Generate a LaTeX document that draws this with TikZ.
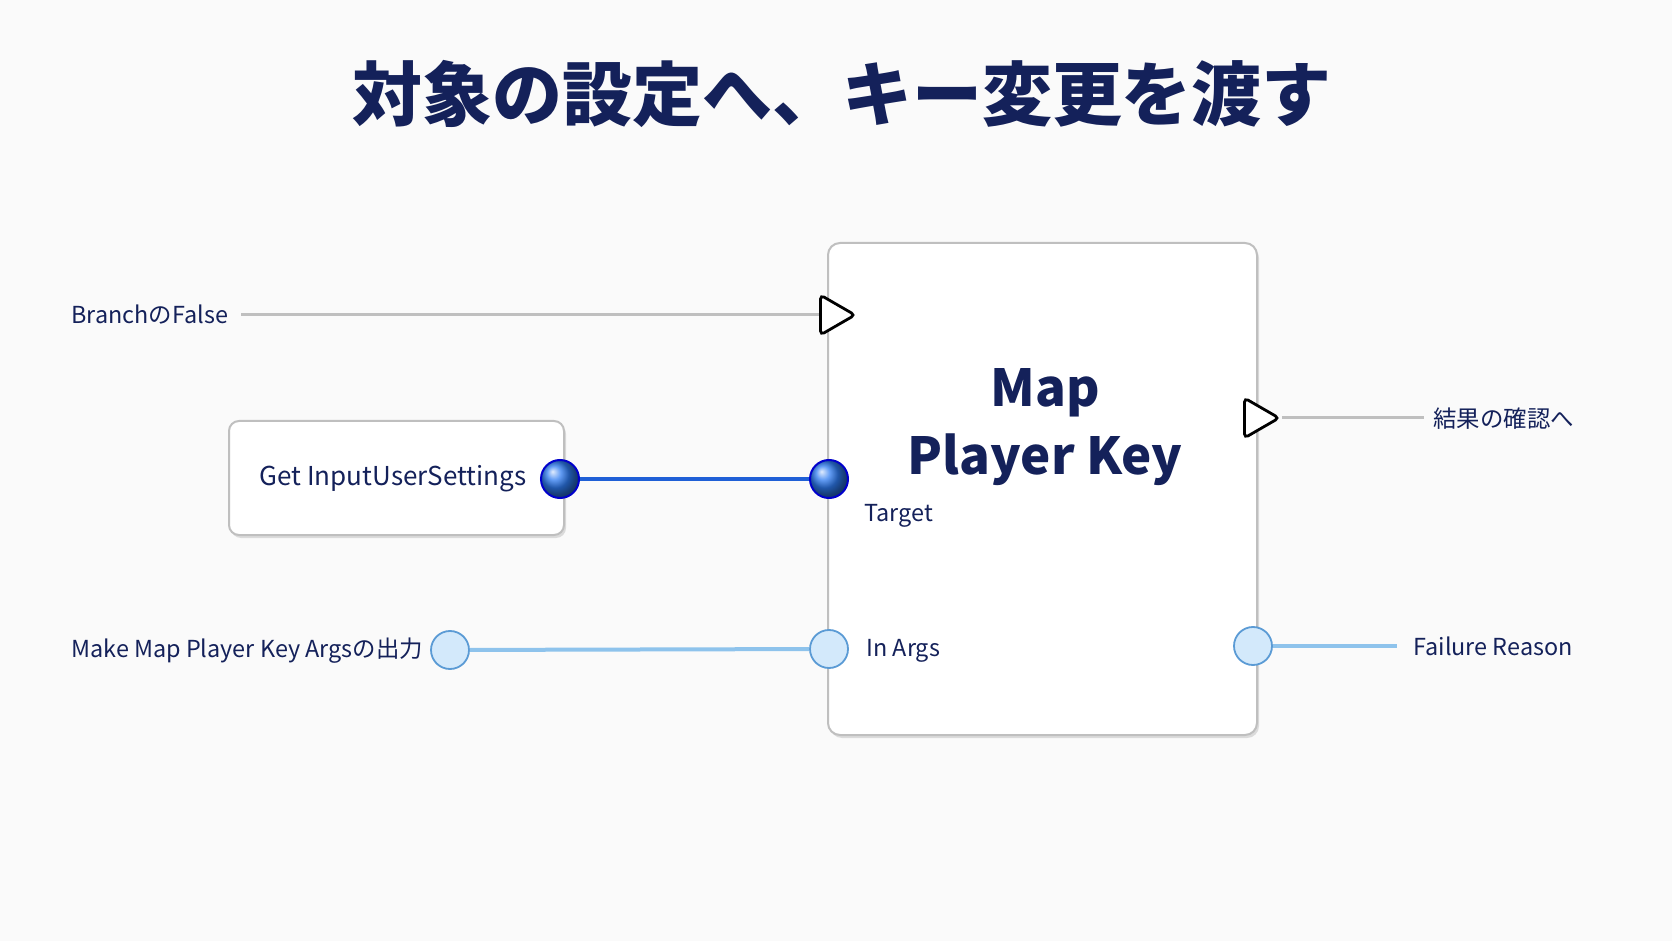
\documentclass[tikz,border=0pt]{standalone}
\usepackage{fontspec}
\setmainfont{Noto Sans CJK JP}
\usetikzlibrary{shadows,shapes.geometric}
\definecolor{navy}{HTML}{14215A}
\definecolor{pinline}{HTML}{8EC3EC}
\definecolor{pinedge}{HTML}{5B9BD5}
\definecolor{pinfill}{HTML}{D3E9FB}
\definecolor{wire}{HTML}{1F5FD6}
\definecolor{ball}{HTML}{2E7BF0}
\tikzset{
  lbl/.style={text=navy,font=\fontsize{11.7}{14}\selectfont,inner sep=0pt},
  box/.style={draw=black!25,line width=1pt,fill=white,rounded corners=6pt,
    drop shadow={shadow xshift=1pt,shadow yshift=-1.5pt,opacity=.25}},
  datapin/.style={circle,draw=pinedge,line width=.9pt,fill=pinfill,minimum size=19pt,inner sep=0pt},
  objpin/.style={circle,draw=blue!80!black,line width=1pt,ball color=ball,minimum size=19pt,inner sep=0pt},
  execpin/.style={draw=black,line width=1.4pt,fill=white,rounded corners=2pt,inner sep=0pt,
    regular polygon,regular polygon sides=3,shape border rotate=-90,minimum size=23pt}
}
\begin{document}
\begin{tikzpicture}[x=.5pt,y=-.5pt]
\fill[black!2] (0,0) rectangle (1672,941);
\useasboundingbox (0,0) rectangle (1672,941);
\node[text=navy,font=\bfseries\fontsize{35}{40}\selectfont] (title) at (842,94) {対象の設定へ、キー変更を渡す};
% main node
\node[box,minimum width=214.5pt,minimum height=246pt] (mpk) at (1042.5,489) {};
\node[text=navy,font=\bfseries\fontsize{25.5}{34}\selectfont,align=center] (mpkname) at (1045,427) {Map\\Player Key};
\node[box,minimum width=167.5pt,minimum height=57pt,rounded corners=5pt] (get) at (396.5,478) {};
\node[lbl,font=\fontsize{13}{16}\selectfont] (getname) at (393,479) {Get InputUserSettings};
% pins
\node[execpin] (execin) at (832,315) {};
\node[execpin] (execout) at (1256,418) {};
\node[objpin] (getout) at (560,479) {};
\node[objpin] (target) at (829,479) {};
\node[datapin] (argsout) at (450,650) {};
\node[datapin] (inargs) at (829,649) {};
\node[datapin] (fail) at (1253,646) {};
% labels
\node[lbl,anchor=west] (branch) at (71,315) {BranchのFalse};
\node[lbl,anchor=west] (result) at (1433,419) {結果の確認へ};
\node[lbl,anchor=west] (make) at (71,651) {Make Map Player Key Argsの出力};
\node[lbl,anchor=west] (tgt) at (864,516) {Target};
\node[lbl,anchor=west] (ina) at (866,651) {In Args};
\node[lbl,anchor=west] (reason) at (1413,646) {Failure Reason};
% wires
\draw[black!25,line width=1.5pt] (branch.east) ++(13,0) -- (execin.west);
\draw[black!25,line width=1.5pt] (execout.east) -- ++(142,0);
\draw[wire,line width=2pt] (getout) -- (target);
\draw[pinline,line width=2pt] (argsout) -- (inargs);
\draw[pinline,line width=2pt] (fail.east) -- ++(124,0);
\end{tikzpicture}
\end{document}
